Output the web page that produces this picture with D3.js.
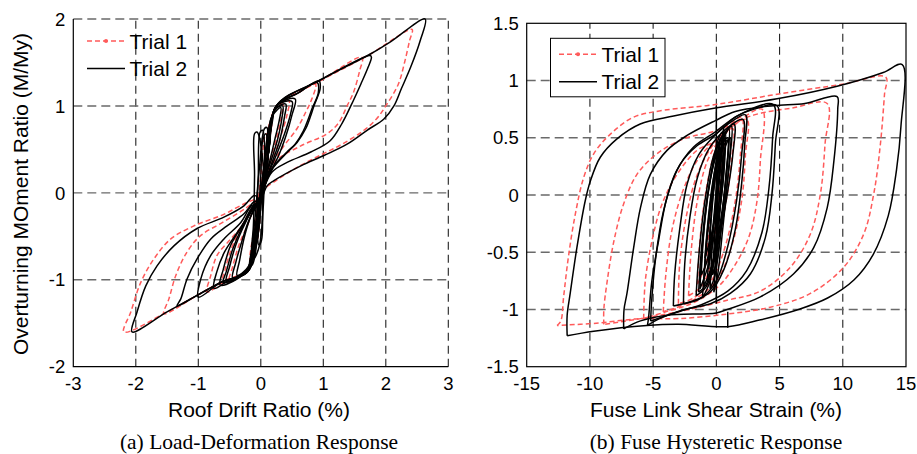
<!DOCTYPE html>
<html>
<head>
<meta charset="utf-8">
<script src="https://cdn.jsdelivr.net/npm/d3@7"></script>
<style>
  body { margin: 0; background: #fff; }
  svg { display: block; }
</style>
</head>
<body>
<div id="my_dataviz"></div>
<script>

// ---- data ----
var driftTicks = [-3, -2, -1, 0, 1, 2, 3];
var momentTicks = [-2, -1, 0, 1, 2];
var strainTicks = [-15, -10, -5, 0, 5, 10, 15];
var shearTicks = [-1.5, -1, -0.5, 0, 0.5, 1, 1.5];
var trialNames = ["Trial 1", "Trial 2"];

// (a) roof drift ratio (%) vs overturning moment ratio, one array per cycle
var driftTrial1 = [
  [[0,0],[0.06,0.35],[0.1,0.68],[0.07,0.66],[0,0.2],[-0.06,-0.25],[-0.1,-0.58],[-0.06,-0.55],[0,0]],
  [[0,0],[0.1,0.45],[0.18,0.85],[0.14,0.8],[0.05,0.3],[-0.08,-0.3],[-0.17,-0.78],[-0.12,-0.74],[0,0]],
  [[0,-0.05],[0.12,0.5],[0.24,0.98],[0.35,1.02],[0.33,0.88],[0.25,0.62],[0.14,0.36],[0.04,0.1],[-0.08,-0.4],[-0.2,-0.88],[-0.62,-1.04],[-0.57,-0.88],[-0.46,-0.62],[-0.3,-0.38],[-0.12,-0.15],[0,-0.05]],
  [[0,-0.05],[0.12,0.5],[0.24,0.98],[0.45,1.06],[0.42,0.9],[0.32,0.65],[0.2,0.4],[0.08,0.15],[-0.05,-0.2],[-0.18,-0.85],[-0.5,-1.0],[-0.45,-0.85],[-0.35,-0.6],[-0.2,-0.35],[-0.08,-0.12],[0,-0.05]],
  [[0,-0.05],[0.12,0.5],[0.25,1.0],[0.6,1.15],[0.875,1.25],[0.8,1.05],[0.72,0.93],[0.58,0.74],[0.37,0.54],[0.2,0.35],[0.08,0.12],[-0.06,-0.25],[-0.2,-0.88],[-0.55,-1.0],[-0.86,-1.14],[-0.8,-0.95],[-0.7,-0.72],[-0.48,-0.53],[-0.3,-0.38],[-0.15,-0.2],[0,-0.05]],
  [[0,-0.05],[0.12,0.5],[0.25,1.0],[0.93,1.28],[1.62,1.56],[1.58,1.4],[1.48,1.15],[1.38,1.0],[1.25,0.81],[1.06,0.68],[0.64,0.54],[0.21,0.35],[0.05,0.1],[-0.06,-0.3],[-0.2,-0.88],[-0.64,-1.03],[-1.02,-1.18],[-1.55,-1.39],[-1.47,-1.22],[-1.36,-0.95],[-1.18,-0.68],[-0.96,-0.49],[-0.61,-0.34],[-0.25,-0.18],[0,-0.05]],
  [[0,-0.05],[0.12,0.5],[0.25,1.0],[0.93,1.28],[1.76,1.6],[2.42,1.88],[2.38,1.75],[2.3,1.5],[2.2,1.25],[2.0,1.0],[1.85,0.85],[1.65,0.72],[1.3,0.56],[1.0,0.45],[0.6,0.3],[0.2,0.12],[0.05,0.03],[-0.06,-0.3],[-0.2,-0.88],[-0.64,-1.03],[-1.02,-1.18],[-1.5,-1.37],[-2.19,-1.6],[-2.08,-1.37],[-1.92,-1.03],[-1.71,-0.76],[-1.44,-0.53],[-1.07,-0.38],[-0.6,-0.25],[-0.25,-0.12],[0,-0.05]]
];

var driftTrial2 = [
  [[0,-0.1],[0.05,0.3],[0.1,0.75],[0.06,0.74],[-0.02,0.3],[-0.08,-0.2],[-0.12,-0.62],[-0.08,-0.6],[0,-0.1]],
  [[0.02,0],[0.06,0.35],[0.03,0.72],[-0.01,0.7],[-0.04,0.2],[-0.06,-0.3],[-0.03,-0.6],[0.01,-0.55],[0.02,0]],
  [[0,0],[0.14,0.55],[0.15,0.72],[0.12,0.7],[0.05,0.25],[-0.05,-0.35],[-0.14,-0.65],[-0.1,-0.66],[0,0]],
  [[0,-0.1],[0.04,0.3],[-0.06,0.7],[-0.1,0.68],[-0.1,0.2],[-0.12,-0.4],[-0.15,-0.7],[-0.05,-0.5],[0,-0.1]],
  [[0.05,0],[0.12,0.4],[0.08,0.68],[0.03,0.6],[0,0.2],[-0.05,-0.4],[-0.1,-0.75],[-0.02,-0.6],[0.05,0]],
  [[0,-0.05],[0.1,0.5],[0.2,0.9],[0.16,0.85],[0.07,0.4],[-0.08,-0.4],[-0.18,-0.85],[-0.13,-0.82],[0,-0.05]],
  [[0,-0.05],[0.08,0.45],[0.18,0.88],[0.32,0.98],[0.3,0.85],[0.22,0.6],[0.12,0.3],[0.02,0.05],[-0.1,-0.45],[-0.2,-0.85],[-0.38,-0.95],[-0.34,-0.78],[-0.26,-0.5],[-0.15,-0.25],[-0.05,-0.1],[0,-0.05]],
  [[0,-0.1],[0.12,0.45],[0.24,0.97],[0.4,1.02],[0.38,0.88],[0.3,0.6],[0.18,0.35],[0.06,0.1],[-0.06,-0.3],[-0.2,-0.88],[-0.45,-0.98],[-0.4,-0.8],[-0.3,-0.55],[-0.18,-0.3],[-0.06,-0.15],[0,-0.1]],
  [[0,-0.05],[0.1,0.4],[0.22,0.95],[0.35,1.0],[0.34,0.87],[0.27,0.62],[0.16,0.36],[0.05,0.12],[-0.1,-0.5],[-0.22,-0.88],[-0.6,-1.03],[-0.55,-0.9],[-0.45,-0.65],[-0.3,-0.4],[-0.12,-0.18],[0,-0.05]],
  [[0,-0.1],[0.12,0.45],[0.25,1.0],[0.5,1.05],[0.48,0.92],[0.38,0.68],[0.24,0.42],[0.1,0.18],[-0.02,-0.1],[-0.2,-0.88],[-0.55,-1.02],[-0.5,-0.85],[-0.4,-0.6],[-0.25,-0.35],[-0.1,-0.15],[0,-0.1]],
  [[0,-0.1],[0.12,0.45],[0.25,1.0],[0.55,1.08],[0.5,0.9],[0.4,0.65],[0.28,0.42],[0.12,0.2],[0,0],[-0.08,-0.35],[-0.2,-0.88],[-0.65,-1.06],[-0.6,-0.88],[-0.48,-0.6],[-0.3,-0.38],[-0.12,-0.15],[0,-0.1]],
  [[0,-0.1],[0.12,0.45],[0.25,1.0],[0.6,1.15],[0.9,1.27],[0.92,1.15],[0.82,0.97],[0.76,0.85],[0.68,0.71],[0.55,0.56],[0.4,0.45],[0.2,0.29],[0.07,0.1],[-0.06,-0.3],[-0.2,-0.9],[-0.5,-1.0],[-0.75,-1.1],[-0.7,-0.9],[-0.58,-0.68],[-0.42,-0.5],[-0.25,-0.32],[-0.1,-0.15],[0,-0.1]],
  [[0,-0.1],[0.12,0.45],[0.25,1.0],[0.6,1.15],[0.93,1.29],[0.95,1.2],[0.85,1.0],[0.8,0.89],[0.72,0.74],[0.58,0.58],[0.42,0.47],[0.21,0.31],[0.08,0.12],[-0.06,-0.3],[-0.2,-0.9],[-0.64,-1.03],[-1.0,-1.2],[-0.96,-0.99],[-0.8,-0.72],[-0.59,-0.53],[-0.32,-0.34],[-0.15,-0.15],[0,-0.1]],
  [[0,-0.1],[0.12,0.45],[0.25,1.0],[0.93,1.29],[1.75,1.58],[1.77,1.56],[1.72,1.45],[1.6,1.25],[1.44,1.0],[1.3,0.8],[1.11,0.6],[0.8,0.47],[0.42,0.35],[0.18,0.24],[0.05,0.05],[-0.06,-0.3],[-0.2,-0.9],[-0.64,-1.03],[-1.02,-1.18],[-1.34,-1.3],[-1.28,-1.22],[-1.18,-0.99],[-1.02,-0.76],[-0.8,-0.53],[-0.54,-0.38],[-0.27,-0.24],[-0.1,-0.1],[0,-0.1]],
  [[0,-0.1],[0.12,0.45],[0.25,1.0],[0.93,1.29],[1.76,1.6],[2.08,1.74],[2.63,2.0],[2.55,1.75],[2.4,1.45],[2.25,1.2],[2.13,1.0],[1.97,0.85],[1.7,0.72],[1.38,0.56],[1.01,0.43],[0.64,0.31],[0.21,0.14],[0.1,0.08],[-0.06,-0.3],[-0.2,-0.88],[-0.64,-1.03],[-1.02,-1.18],[-1.5,-1.37],[-2.06,-1.6],[-1.98,-1.37],[-1.84,-1.07],[-1.66,-0.84],[-1.39,-0.61],[-1.02,-0.41],[-0.59,-0.28],[-0.27,-0.15],[-0.1,-0.03],[0,-0.1]]
];

// (b) fuse link shear strain (%) vs normalised shear, one array per cycle
var strainTrial1 = [
  [[-0.8,-0.6],[-0.5,-0.2],[0,0.2],[0.6,0.45],[0.5,0.15],[0,-0.3],[-0.8,-0.6]],
  [[-1.5,-0.78],[-1.3,-0.4],[-0.8,0.05],[-0.1,0.38],[0.5,0.5],[0.4,0.2],[-0.1,-0.25],[-0.8,-0.6],[-1.5,-0.78]],
  [[-2.2,-0.88],[-2.0,-0.5],[-1.5,-0.05],[-0.7,0.3],[0.4,0.5],[1.3,0.58],[1.2,0.3],[0.7,-0.1],[-0.1,-0.5],[-1.2,-0.8],[-2.2,-0.88]],
  [[-3.0,-0.95],[-2.9,-0.6],[-2.4,-0.2],[-1.6,0.15],[-0.5,0.4],[1,0.6],[2.0,0.68],[1.9,0.35],[1.5,-0.05],[0.7,-0.45],[-0.4,-0.75],[-1.8,-0.9],[-3.0,-0.95]],
  [[-4.2,-1.02],[-4.0,-0.7],[-3.5,-0.3],[-2.6,0.05],[-1.4,0.32],[0.2,0.5],[2.4,0.66],[2.3,0.35],[2.0,-0.05],[1.2,-0.45],[0,-0.75],[-2,-0.93],[-4.2,-1.02]],
  [[-5.75,-1.08],[-5.62,-0.75],[-5.09,-0.4],[-4.3,-0.08],[-3.11,0.18],[-1.53,0.39],[-0.08,0.47],[1.5,0.62],[3.6,0.75],[3.48,0.3],[3.22,-0.05],[2.56,-0.37],[1.37,-0.63],[0.05,-0.81],[-2,-0.95],[-4,-1.02],[-5.75,-1.08]],
  [[-8.9,-1.13],[-8.9,-1.0],[-8.63,-0.75],[-8.1,-0.4],[-7.34,-0.08],[-6.28,0.18],[-4.7,0.36],[-2.59,0.49],[-0.08,0.56],[3,0.7],[6,0.76],[8.76,0.8],[8.6,0.45],[8.23,0.01],[7.44,-0.34],[5.86,-0.63],[3.48,-0.84],[0.85,-0.92],[-3,-1.02],[-6,-1.08],[-8.9,-1.13]],
  [[-12.6,-1.14],[-12.3,-1.1],[-12.08,-0.89],[-11.7,-0.54],[-11.16,-0.17],[-10.5,0.15],[-9.7,0.36],[-8.4,0.53],[-6.54,0.68],[-4.17,0.74],[-0.08,0.79],[4.8,0.88],[10.08,0.97],[13.4,1.03],[13.3,0.88],[12.98,0.45],[12.45,0.01],[11.66,-0.34],[10.08,-0.63],[7.44,-0.86],[4.27,-0.98],[0.85,-1.04],[-3,-1.08],[-6,-1.08],[-9.5,-1.12],[-12.6,-1.14]]
];

var strainTrial2 = [
  [[-0.9,-0.55],[-0.5,-0.1],[0,0.3],[0.4,0.5],[0.2,0.1],[-0.3,-0.3],[-0.9,-0.55]],
  [[-0.5,-0.82],[-0.3,-0.4],[0,0.0],[0.4,0.38],[0.9,0.48],[0.7,0.1],[0.3,-0.35],[-0.1,-0.7],[-0.5,-0.82]],
  [[-1.2,-0.7],[-0.9,-0.2],[-0.4,0.2],[0.2,0.5],[0.5,0.55],[0.3,0.2],[-0.2,-0.25],[-0.8,-0.6],[-1.2,-0.7]],
  [[-0.7,-0.75],[-0.5,-0.3],[-0.1,0.15],[0.5,0.45],[0.7,0.5],[0.6,0.2],[0.2,-0.2],[-0.3,-0.6],[-0.7,-0.75]],
  [[-1.0,-0.8],[-0.8,-0.4],[-0.3,0.1],[0.3,0.4],[0.9,0.5],[0.8,0.2],[0.3,-0.25],[-0.3,-0.6],[-1.0,-0.8]],
  [[-1.3,-0.82],[-1.1,-0.45],[-0.6,0.05],[0.1,0.42],[0.7,0.55],[0.6,0.3],[0.1,-0.15],[-0.6,-0.6],[-1.3,-0.82]],
  [[-0.3,-0.7],[-0.1,-0.3],[0.2,0.15],[0.6,0.5],[1.0,0.58],[0.9,0.3],[0.5,-0.15],[0.1,-0.55],[-0.3,-0.7]],
  [[-0.6,-0.65],[-0.4,-0.2],[0,0.25],[0.3,0.5],[0.1,0.2],[-0.2,-0.2],[-0.6,-0.65]],
  [[-1.1,-0.9],[-0.9,-0.6],[-0.5,-0.15],[0.1,0.28],[0.6,0.42],[0.5,0.1],[0,-0.35],[-0.5,-0.75],[-1.1,-0.9]],
  [[-0.2,-0.85],[0,-0.4],[0.3,0.05],[0.7,0.42],[1.1,0.5],[0.9,0.15],[0.5,-0.3],[0.1,-0.7],[-0.2,-0.85]],
  [[0,-0.6],[0.1,-0.1],[0.3,0.3],[0.6,0.6],[0.5,0.3],[0.3,-0.1],[0,-0.6]],
  [[-1.6,-0.88],[-1.4,-0.55],[-0.9,-0.05],[-0.2,0.35],[0.5,0.52],[1.4,0.62],[1.3,0.35],[0.7,-0.1],[0,-0.5],[-0.8,-0.8],[-1.6,-0.88]],
  [[-1.4,-0.85],[-1.2,-0.5],[-0.7,0.0],[0.0,0.35],[0.8,0.55],[1.2,0.6],[1.1,0.35],[0.6,-0.1],[-0.1,-0.5],[-0.8,-0.78],[-1.4,-0.85]],
  [[-2.6,-0.95],[-2.5,-0.6],[-2.1,-0.2],[-1.5,0.15],[-0.6,0.4],[0.8,0.58],[2.1,0.66],[2.0,0.35],[1.6,-0.05],[0.9,-0.45],[0,-0.75],[-1.2,-0.9],[-2.6,-0.95]],
  [[-3.4,-0.97],[-3.3,-0.7],[-2.9,-0.3],[-2.3,0.1],[-1.4,0.35],[-0.3,0.5],[1.2,0.64],[2.3,0.7],[2.25,0.45],[2.0,0.1],[1.5,-0.3],[0.6,-0.65],[-0.5,-0.85],[-2,-0.93],[-3.4,-0.97]],
  [[-5.2,-1.1],[-5.1,-0.9],[-4.8,-0.55],[-4.2,-0.15],[-3.2,0.2],[-1.8,0.42],[-0.1,0.55],[1.8,0.7],[4.5,0.79],[4.45,0.5],[4.15,0.05],[3.6,-0.33],[2.4,-0.66],[0.9,-0.84],[-1,-0.95],[-3,-1.02],[-5.2,-1.1]],
  [[-5.45,-1.14],[-5.36,-1.07],[-5.1,-0.75],[-4.57,-0.4],[-3.9,-0.02],[-2.85,0.27],[-1.53,0.43],[-0.08,0.53],[1.5,0.68],[3,0.75],[4.8,0.78],[4.67,0.45],[4.4,0.01],[3.88,-0.37],[2.69,-0.69],[1.1,-0.86],[-0.47,-0.95],[-2.5,-1.0],[-4.5,-1.08],[-5.45,-1.14]],
  [[-7.33,-1.17],[-7.3,-1.0],[-7.07,-0.86],[-6.54,-0.46],[-6.0,-0.11],[-5.22,0.18],[-3.9,0.39],[-2.32,0.52],[-0.08,0.65],[1.5,0.73],[4.5,0.78],[7,0.8],[9.55,0.86],[9.6,0.75],[9.3,0.3],[8.77,-0.11],[7.7,-0.46],[6.1,-0.69],[3.48,-0.89],[0.85,-1.0],[0,-1.03],[-3.9,-1.05],[-6,-1.1],[-7.33,-1.17]],
  [[-11.8,-1.23],[-11.8,-1.05],[-11.56,-0.86],[-11.03,-0.46],[-10.37,-0.05],[-9.97,0.12],[-9.18,0.33],[-7.86,0.49],[-6.02,0.62],[-3.38,0.69],[-0.08,0.76],[4.8,0.84],[9.55,0.95],[13.2,1.07],[14.7,1.14],[14.6,0.6],[14.25,0.22],[13.6,-0.18],[12.4,-0.52],[10.9,-0.74],[8.8,-0.9],[6.5,-1.0],[3.5,-1.09],[0.9,-1.15],[-3,-1.13],[-5.5,-1.14],[-9.7,-1.19],[-11.8,-1.23]],
  [[0,0.78],[0,-0.95]],
  [[0.9,-1.02],[0.9,-1.16]]
];

// ---- drawing ----
var svg = d3.select("#my_dataviz")
  .append("svg")
  .attr("width", 917)
  .attr("height", 454)
  .style("background", "#fff");

var sans = "'Liberation Sans', Arial, Helvetica, sans-serif";
var serif = "'Liberation Serif', 'Times New Roman', serif";
var red = "#ff5a5a";

function drawPanel(opt) {
  var x = d3.scaleLinear().domain(opt.xDomain).range(opt.xRange);
  var y = d3.scaleLinear().domain(opt.yDomain).range(opt.yRange);
  var g = svg.append("g");

  // grid lines (dashed)
  g.selectAll(".vgrid")
    .data(opt.xTicks.filter(function(d) { return opt.fullBox ? (d > opt.xDomain[0] && d < opt.xDomain[1]) : d > opt.xDomain[0]; }))
    .enter().append("line")
    .attr("x1", function(d) { return x(d); })
    .attr("x2", function(d) { return x(d); })
    .attr("y1", y.range()[0]).attr("y2", y.range()[1])
    .attr("stroke", "#222").attr("stroke-width", 1.1)
    .attr("stroke-dasharray", "8,5");

  g.selectAll(".hgrid")
    .data(opt.yTicks.filter(function(d) { return opt.fullBox ? (d > opt.yDomain[0] && d < opt.yDomain[1]) : d > opt.yDomain[0]; }))
    .enter().append("line")
    .attr("x1", x.range()[0]).attr("x2", x.range()[1])
    .attr("y1", function(d) { return y(d); })
    .attr("y2", function(d) { return y(d); })
    .attr("stroke", "#6a6a6a").attr("stroke-width", 1.4)
    .attr("stroke-dasharray", "9,5");

  var line = d3.line()
    .x(function(d) { return x(d[0]); })
    .y(function(d) { return y(d[1]); })
    .curve(d3.curveCatmullRom.alpha(0.5));

  g.append("g").selectAll("path")
    .data(opt.trial1)
    .enter().append("path")
    .attr("d", line)
    .attr("fill", "none")
    .attr("stroke", red)
    .attr("stroke-width", 1.5)
    .attr("stroke-dasharray", "5,3");

  g.append("g").selectAll("path")
    .data(opt.trial2)
    .enter().append("path")
    .attr("d", line)
    .attr("fill", "none")
    .attr("stroke", "#000")
    .attr("stroke-width", 1.5)
    .attr("stroke-linejoin", "round");

  // frame
  var x0 = x.range()[0], x1 = x.range()[1], yb = y.range()[0], yt = y.range()[1];
  if (opt.fullBox) {
    g.append("rect")
      .attr("x", x0).attr("y", yt)
      .attr("width", x1 - x0).attr("height", yb - yt)
      .attr("fill", "none").attr("stroke", "#000").attr("stroke-width", 1.2);
  } else {
    g.append("path")
      .attr("d", "M" + x0 + "," + yt + "V" + yb + "H" + x1)
      .attr("fill", "none").attr("stroke", "#000").attr("stroke-width", 1.2);
  }

  // tick labels
  g.selectAll(".xlab")
    .data(opt.xTicks)
    .enter().append("text")
    .attr("x", function(d) { return x(d); })
    .attr("y", yb + 23)
    .attr("text-anchor", "middle")
    .style("font-family", sans).style("font-size", "18.5px")
    .text(function(d) { return d; });

  g.selectAll(".ylab")
    .data(opt.yTicks)
    .enter().append("text")
    .attr("x", x0 - 8)
    .attr("y", function(d) { return y(d); })
    .attr("dy", "0.36em")
    .attr("text-anchor", "end")
    .style("font-family", sans).style("font-size", "18.5px")
    .text(function(d) { return d; });

  // axis title and caption
  g.append("text")
    .attr("x", opt.center).attr("y", 417)
    .attr("text-anchor", "middle")
    .style("font-family", sans).style("font-size", "21px")
    .text(opt.xTitle);

  g.append("text")
    .attr("x", opt.center).attr("y", 449)
    .attr("text-anchor", "middle")
    .style("font-family", serif).style("font-size", "21.5px")
    .text(opt.caption);

  // legend
  var lg = g.append("g").attr("transform", "translate(" + opt.legend[0] + "," + opt.legend[1] + ")");
  if (opt.fullBox) {
    lg.append("rect")
      .attr("x", -8.5).attr("y", -16)
      .attr("width", 114.5).attr("height", 58.5)
      .attr("fill", "#fff").attr("stroke", "#000").attr("stroke-width", 1);
  }
  lg.selectAll(".legLine")
    .data(trialNames)
    .enter().append("line")
    .attr("x1", 0).attr("x2", 38)
    .attr("y1", function(d, i) { return i * 27.5; })
    .attr("y2", function(d, i) { return i * 27.5; })
    .attr("stroke", function(d, i) { return i === 0 ? red : "#000"; })
    .attr("stroke-width", 1.5)
    .attr("stroke-dasharray", function(d, i) { return i === 0 ? "5,3" : null; });
  lg.append("circle")
    .attr("cx", 19).attr("cy", 0).attr("r", 2)
    .attr("fill", red);
  lg.selectAll(".legText")
    .data(trialNames)
    .enter().append("text")
    .attr("x", 42.5)
    .attr("y", function(d, i) { return i * 27.5; })
    .attr("dy", "0.36em")
    .style("font-family", sans).style("font-size", "21px")
    .text(function(d) { return d; });

  return g;
}

drawPanel({
  xDomain: [-3, 3], xRange: [73.3, 448.3],
  yDomain: [-2, 2], yRange: [366.7, 19],
  xTicks: driftTicks, yTicks: momentTicks,
  trial1: driftTrial1, trial2: driftTrial2,
  fullBox: false,
  center: 259,
  xTitle: "Roof Drift Ratio (%)",
  caption: "(a) Load-Deformation Response",
  legend: [87, 41]
});

drawPanel({
  xDomain: [-15, 15], xRange: [526.7, 906],
  yDomain: [-1.5, 1.5], yRange: [366.7, 23.3],
  xTicks: strainTicks, yTicks: shearTicks,
  trial1: strainTrial1, trial2: strainTrial2,
  fullBox: true,
  center: 716,
  xTitle: "Fuse Link Shear Strain (%)",
  caption: "(b) Fuse Hysteretic Response",
  legend: [559, 54.3]
});

// y title of panel (a)
svg.append("text")
  .attr("transform", "translate(28,194) rotate(-90)")
  .attr("text-anchor", "middle")
  .style("font-family", sans).style("font-size", "21px")
  .text("Overturning MOment Ratio (M/My)");

</script>
</body>
</html>
